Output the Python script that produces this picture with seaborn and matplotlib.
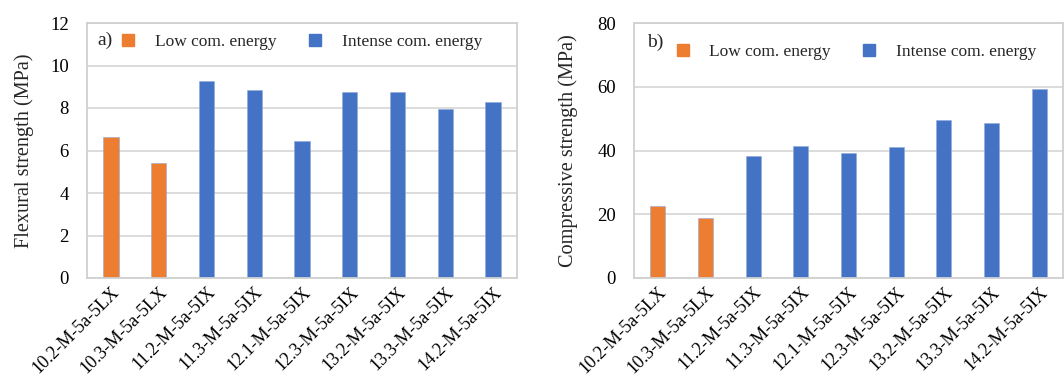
import matplotlib
matplotlib.use("Agg")
import matplotlib.pyplot as plt
from matplotlib.lines import Line2D
import seaborn as sns
import pandas as pd

samples = ["10.2-M-5a-5LX", "10.3-M-5a-5LX", "11.2-M-5a-5IX", "11.3-M-5a-5IX",
           "12.1-M-5a-5IX", "12.3-M-5a-5IX", "13.2-M-5a-5IX", "13.3-M-5a-5IX",
           "14.2-M-5a-5IX"]
groups = ["Low com. energy", "Low com. energy"] + ["Intense com. energy"] * 7
flexural = [6.64, 5.41, 9.25, 8.86, 6.43, 8.75, 8.77, 7.94, 8.27]
compressive = [22.6, 18.8, 38.3, 41.3, 39.2, 41.2, 49.6, 48.5, 59.3]

palette = {"Low com. energy": "#ED7D31", "Intense com. energy": "#4472C4"}

df = pd.DataFrame({"sample": samples, "group": groups,
                   "flex": flexural, "comp": compressive})

sns.set_theme(style="white")
plt.rcParams["font.family"] = ["Liberation Serif", "DejaVu Serif"]

fig = plt.figure(figsize=(10.64, 3.79), dpi=100)
ax1 = fig.add_axes([87/1064, 101/379, 430/1064, 255/379])
ax2 = fig.add_axes([634/1064, 101/379, 429/1064, 255/379])

specs = [
    (ax1, "flex", "Flexural strength (MPa)", 12, [0, 2, 4, 6, 8, 10, 12], "a)",
     (0.023, 0.933), (0.079, 0.925), 12),
    (ax2, "comp", "Compressive strength (MPa)", 80, [0, 20, 40, 60, 80], "b)",
     (0.030, 0.925), (0.097, 0.886), 14),
]

for ax, col, ylabel, ymax, yticks, tag, tagpos, legpos, lpad in specs:
    sns.barplot(data=df, x="sample", y=col, hue="group", palette=palette,
                dodge=False, width=0.32, ax=ax, legend=False, saturation=1,
                edgecolor="#8FAADC", linewidth=0.4)
    ax.set_xlim(-0.5, 8.5)
    ax.set_ylim(0, ymax)
    ax.set_yticks(yticks)
    ax.yaxis.grid(True, color="#D9D9D9", linewidth=1.3)
    ax.set_axisbelow(True)
    for s in ax.spines.values():
        s.set_visible(True)
        s.set_color("#D0D0D0")
        s.set_linewidth(1.3)
    ax.tick_params(axis="both", length=0, labelsize=13.5, colors="black")
    ax.tick_params(axis="x", labelsize=13)
    ax.tick_params(axis="y", pad=13)
    ax.tick_params(axis="x", pad=4)
    ax.set_xticks(range(len(samples)))
    ax.set_xticklabels(samples, rotation=45, ha="right", rotation_mode="anchor")
    ax.set_xlabel("")
    ax.set_ylabel(ylabel, fontsize=14.6, labelpad=lpad)
    ax.text(tagpos[0], tagpos[1], tag, transform=ax.transAxes, fontsize=14,
            va="center", ha="left")
    handles = [Line2D([], [], marker="s", linestyle="", markersize=8,
                      color=palette[g], label=g)
               for g in ["Low com. energy", "Intense com. energy"]]
    ax.legend(handles=handles, loc="center left", bbox_to_anchor=legpos,
              ncol=2, frameon=False, fontsize=12.5, handlelength=0.8,
              handletextpad=1.15, columnspacing=1.8, borderpad=0,
              borderaxespad=0)

fig.savefig("out.png", dpi=100)
